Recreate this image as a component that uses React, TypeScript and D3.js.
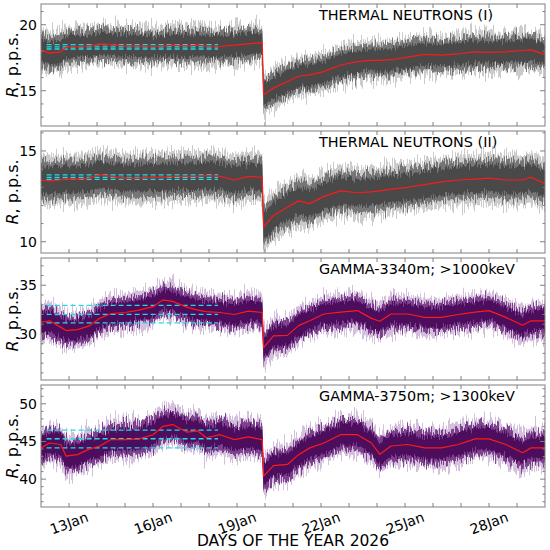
import * as d3 from "d3";

// days of January 2026
const DAYS = [
  12.0, 12.3, 12.7, 12.9, 13.3, 13.7, 14.1, 14.5, 15.0, 15.5, 16.0, 16.35, 16.7, 17.2, 17.6, 17.9, 18.4, 18.9, 19.4, 19.9,
  19.95, 20.3, 20.8, 21.2, 21.6, 22.1, 22.7, 23.3, 23.8, 24.1, 24.5, 25.1, 25.7, 26.3, 26.9, 27.5, 28.0, 28.6, 29.2, 29.5, 30.0,
];

const NEUTRONS_1 = [
  18.1, 17.85, 17.95, 18.3, 18.35, 18.4, 18.55, 18.5, 18.4, 18.4, 18.35, 18.4, 18.45, 18.4, 18.45, 18.4, 18.35, 18.45, 18.55, 18.65,
  14.7, 15.2, 15.7, 16.1, 16.2, 16.45, 16.95, 17.2, 17.3, 17.3, 17.35, 17.55, 17.75, 17.7, 17.8, 17.95, 17.9, 17.95, 18.05, 18.1, 17.75,
];
const NEUTRONS_2 = [
  13.4, 13.35, 13.4, 13.45, 13.45, 13.5, 13.7, 13.6, 13.5, 13.5, 13.55, 13.55, 13.6, 13.6, 13.6, 13.65, 13.6, 13.4, 13.6, 13.55,
  10.8, 11.45, 11.9, 12.25, 12.1, 12.5, 12.8, 12.7, 12.75, 12.8, 12.9, 13.0, 13.15, 13.3, 13.4, 13.45, 13.5, 13.4, 13.4, 13.55, 13.2,
];
const GAMMA_3340 = [
  31.2, 31.35, 30.7, 30.35, 30.45, 30.8, 31.6, 32.1, 32.2, 32.45, 32.8, 33.5, 33.35, 32.75, 32.45, 32.3, 32.2, 32.0, 32.35, 32.2,
  28.6, 29.8, 29.85, 30.85, 31.35, 32.05, 32.25, 32.4, 31.6, 31.3, 32.05, 32.05, 31.7, 31.7, 32.0, 32.25, 32.4, 31.7, 30.9, 31.35, 31.35,
];
const GAMMA_3750 = [
  44.15, 44.8, 44.6, 43.05, 43.25, 43.95, 44.4, 45.25, 45.25, 45.35, 45.9, 47.0, 47.25, 46.25, 46.4, 45.5, 45.9, 45.25, 45.6, 45.25,
  40.4, 41.8, 41.95, 43.25, 44.15, 44.8, 45.9, 45.9, 44.8, 43.3, 44.4, 44.6, 44.15, 44.15, 44.6, 45.35, 45.35, 44.6, 43.5, 44.15, 44.15,
];

// scatter of the raw counts around the mean (core, full)
const SPREAD_CORE = [0.85, 0.75, 1.05, 1.45];
const SPREAD_FULL = [1.55, 1.4, 1.95, 2.7];

// mean and mean ± sigma of the quiet period
const REF_1 = [18.5, 18.33, 18.16];
const REF_2 = [13.68, 13.55, 13.44];
const REF_3 = [32.93, 32.0, 31.14];
const REF_4 = [46.5, 45.36, 44.16];
const REF_SPAN = [12.2, 18.32];

const TITLES = ["THERMAL NEUTRONS (I)", "THERMAL NEUTRONS (II)", "GAMMA-3340m; >1000keV", "GAMMA-3750m; >1300keV"];
const Y_DOMAINS: [number, number][] = [[12.33, 21.57], [9.38, 16.1], [25.27, 37.8], [36.3, 52.5]];
const Y_LABELS = [[15, 20], [10, 15], [30, 35], [40, 45, 50]];
const X_LABEL_DAYS = [13, 16, 19, 22, 25, 28];

const SERIES = [NEUTRONS_1, NEUTRONS_2, GAMMA_3340, GAMMA_3750];
const REFS = [REF_1, REF_2, REF_3, REF_4];

const FONT = "DejaVu Sans, Verdana, sans-serif";
const FRAME = "#7f7f7f";
const GRAY = ["#a9a9a9", "#686868", "#4a4a4a"];
const PURPLE = ["#b996c8", "#6e2a80", "#4c0a5b"];

const LEFT = 41;
const RIGHT = 545;
const TOP0 = 4;
const PANEL_H = 122;
const STEP = 127;

const x = d3.scaleLinear().domain([12, 30]).range([LEFT, RIGHT]);

function Panel({ i }: { i: number }) {
  const top = TOP0 + i * STEP;
  const bottom = top + PANEL_H;
  const y = d3.scaleLinear().domain(Y_DOMAINS[i]).range([bottom, top]);
  const values = SERIES[i];
  const colors = i < 2 ? GRAY : PURPLE;

  const band = (w: number) =>
    d3
      .area<number>()
      .x((_, j) => x(DAYS[j]))
      .y0((v) => y(v - w))
      .y1((v) => y(v + w))(values) ?? "";

  const line = d3
    .line<number>()
    .x((_, j) => x(DAYS[j]))
    .y((v) => y(v))(values) ?? "";

  const layers = [
    { w: SPREAD_FULL[i], fill: colors[0], op: 0.6, scale: 30 },
    { w: (SPREAD_FULL[i] + SPREAD_CORE[i]) / 2, fill: colors[1], op: 0.85, scale: 22 },
    { w: SPREAD_CORE[i], fill: colors[2], op: 1, scale: 14 },
  ];

  const [d0, d1] = Y_DOMAINS[i];
  const minor = d3.range(Math.ceil(d0), Math.floor(d1) + 1);
  const dayTicks = d3.range(13, 30);

  return (
    <g>
      <defs>
        <clipPath id={`clip${i}`}>
          <rect x={LEFT} y={top} width={RIGHT - LEFT} height={PANEL_H} />
        </clipPath>
        {layers.map((l, k) => (
          <filter
            key={k}
            id={`hair${i}_${k}`}
            filterUnits="userSpaceOnUse"
            x={LEFT - 5}
            y={top - 30}
            width={RIGHT - LEFT + 10}
            height={PANEL_H + 60}
          >
            <feTurbulence type="fractalNoise" baseFrequency="0.9 0.02" numOctaves={2} seed={i * 7 + k * 3 + 1} result="t" />
            <feColorMatrix
              in="t"
              type="matrix"
              values="0 0 0 0 0.5  0 1 0 0 0  0 0 0 0 0  0 0 0 0 1"
              result="m"
            />
            <feDisplacementMap in="SourceGraphic" in2="m" scale={l.scale} xChannelSelector="R" yChannelSelector="G" />
          </filter>
        ))}
      </defs>

      <g clipPath={`url(#clip${i})`}>
        {layers.map((l, k) => (
          <path key={k} d={band(l.w)} fill={l.fill} opacity={l.op} filter={`url(#hair${i}_${k})`} />
        ))}
        {REFS[i].map((v, k) => (
          <line
            key={k}
            x1={x(REF_SPAN[0])}
            x2={x(REF_SPAN[1])}
            y1={y(v)}
            y2={y(v)}
            stroke="#22dbe6"
            strokeWidth={1.3}
            strokeDasharray="5,3"
          />
        ))}
        <path d={line} fill="none" stroke="#ff1a1a" strokeWidth={1.2} strokeLinejoin="round" />
      </g>

      <rect x={LEFT} y={top} width={RIGHT - LEFT} height={PANEL_H} fill="none" stroke={FRAME} strokeWidth={1} />

      {dayTicks.map((d) => (
        <g key={d} stroke={FRAME} strokeWidth={1}>
          <line x1={x(d)} x2={x(d)} y1={bottom} y2={bottom - 4} />
          <line x1={x(d)} x2={x(d)} y1={top} y2={top + 4} />
        </g>
      ))}
      {minor.map((v) => {
        const len = Y_LABELS[i].includes(v) ? 5 : 2.5;
        return (
          <g key={v} stroke={FRAME} strokeWidth={1}>
            <line x1={LEFT} x2={LEFT + len} y1={y(v)} y2={y(v)} />
            <line x1={RIGHT} x2={RIGHT - len} y1={y(v)} y2={y(v)} />
          </g>
        );
      })}
      {Y_LABELS[i].map((v) => (
        <text key={v} x={37} y={y(v)} textAnchor="end" dominantBaseline="central" fontSize={14} fontFamily={FONT}>
          {v}
        </text>
      ))}

      <text x={319} y={top + 16} fontSize={14.4} fontFamily={FONT}>
        {TITLES[i]}
      </text>

      <text
        transform={`translate(18,${(top + bottom) / 2}) rotate(-90)`}
        textAnchor="middle"
        fontSize={16}
        fontFamily={FONT}
      >
        <tspan fontStyle="italic">R</tspan>, p.p.s.
      </text>
    </g>
  );
}

export default function App() {
  const axisY = TOP0 + 3 * STEP + PANEL_H;
  return (
    <svg
      width={550}
      height={550}
      viewBox="0 0 550 550"
      style={{ position: "absolute", left: 0, top: 0, background: "#fff" }}
    >
      <rect width={550} height={550} fill="#fff" />
      {SERIES.map((_, i) => (
        <Panel key={i} i={i} />
      ))}
      {X_LABEL_DAYS.map((d) => (
        <text
          key={d}
          x={x(d)}
          y={axisY + 16}
          textAnchor="middle"
          dominantBaseline="central"
          fontSize={14}
          fontFamily={FONT}
          transform={`rotate(-20,${x(d)},${axisY + 16})`}
        >
          {d}Jan
        </text>
      ))}
      <text x={(LEFT + RIGHT) / 2} y={546} textAnchor="middle" fontSize={15.5} fontFamily={FONT}>
        DAYS OF THE YEAR 2026
      </text>
    </svg>
  );
}
